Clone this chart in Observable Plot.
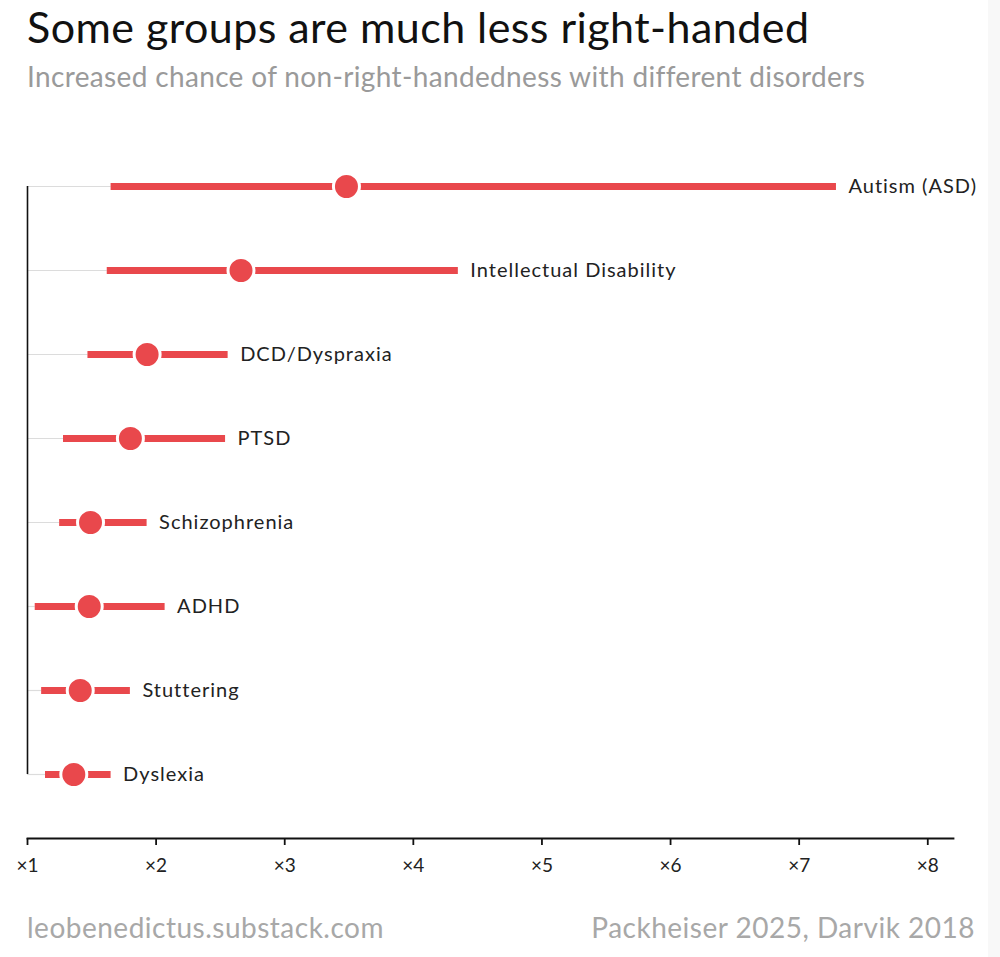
<!DOCTYPE html>
<html><head><meta charset="utf-8">
<script src="https://cdn.jsdelivr.net/npm/d3@7"></script>
<script src="https://cdn.jsdelivr.net/npm/@observablehq/plot@0.6"></script>
<style>
body{margin:0;background:#fff;font-family:Lato,"Open Sans",sans-serif;width:1000px;height:957px;position:relative;overflow:hidden}
#title{position:absolute;left:27px;top:5px;font-size:43px;line-height:1;color:#111;white-space:nowrap;letter-spacing:0.45px}
#sub{position:absolute;left:27px;top:62px;font-size:28px;line-height:1;color:#9a9a9a;white-space:nowrap;letter-spacing:0.35px}
#chart{position:absolute;left:0;top:110px}
#fl{position:absolute;left:27px;top:910px;font-size:28px;color:#a8a8a8;letter-spacing:0.5px}
#fr{position:absolute;right:25px;top:910px;font-size:28px;color:#a8a8a8;letter-spacing:0.5px}
#strip{position:absolute;left:988px;top:0;width:12px;height:957px;background:#f8f8f8}
#chart svg text.lbl, #chart svg .lbl text{letter-spacing:1px}
</style></head><body>
<div id="strip"></div>
<div id="title">Some groups are much less right-handed</div>
<div id="sub">Increased chance of non-right-handedness with different disorders</div>
<div id="chart"></div>
<div id="fl">leobenedictus.substack.com</div>
<div id="fr">Packheiser 2025, Darvik 2018</div>
<script>
const categories = ["Autism (ASD)","Intellectual Disability","DCD/Dyspraxia","PTSD","Schizophrenia","ADHD","Stuttering","Dyslexia"];
const estimates = [3.48, 2.66, 1.93, 1.80, 1.49, 1.48, 1.41, 1.36];
const lowers    = [1.65, 1.62, 1.47, 1.28, 1.25, 1.06, 1.11, 1.14];
const uppers    = [7.29, 4.35, 2.56, 2.54, 1.93, 2.07, 1.80, 1.65];
const tickValues = [1,2,3,4,5,6,7,8];
const tickLabels = ["×1","×2","×3","×4","×5","×6","×7","×8"];

const data = categories.map((c,i)=>({name:c, est:estimates[i], lo:lowers[i], hi:uppers[i]}));
const spine = [{x: 1, y1: categories[0], y2: categories[categories.length-1]}];
const red = "#e9484c";
const fmt = d => tickLabels[tickValues.indexOf(d)];

const chart = Plot.plot({
  width: 1000,
  height: 780,
  marginLeft: 27,
  marginRight: 47,
  marginTop: 20,
  marginBottom: 52,
  style: {fontFamily: "Lato, sans-serif", background: "transparent", overflow: "visible"},
  x: {domain: [1, 8.2], label: null},
  y: {type: "point", domain: categories, range: [75, 665], padding: 0, axis: null},
  marks: [
    Plot.ruleY(data, {y: "name", x1: 1, x2: "lo", stroke: "#dcdcdc", strokeWidth: 1.2}),
    Plot.ruleX(spine, {x: "x", y1: "y1", y2: "y2", stroke: "#111", strokeWidth: 1.6}),
    Plot.ruleY(data, {y: "name", x1: "lo", x2: "hi", stroke: red, strokeWidth: 7}),
    Plot.dot(data, {x: "est", y: "name", r: 13, fill: red, stroke: "#fff", strokeWidth: 3}),
    Plot.text(data, {x: "hi", y: "name", text: "name", dx: 12, textAnchor: "start", fontSize: 20, fill: "#222", className: "lbl"}),
    Plot.axisX(tickValues, {tickFormat: fmt, tickSize: 7, tickPadding: 13, fontSize: 19, color: "#222", stroke: "#111", strokeWidth: 1.8, label: null}),
    Plot.frame({anchor: "bottom", stroke: "#111", strokeWidth: 1.8})
  ]
});
document.getElementById("chart").appendChild(chart);
</script>
</body></html>
